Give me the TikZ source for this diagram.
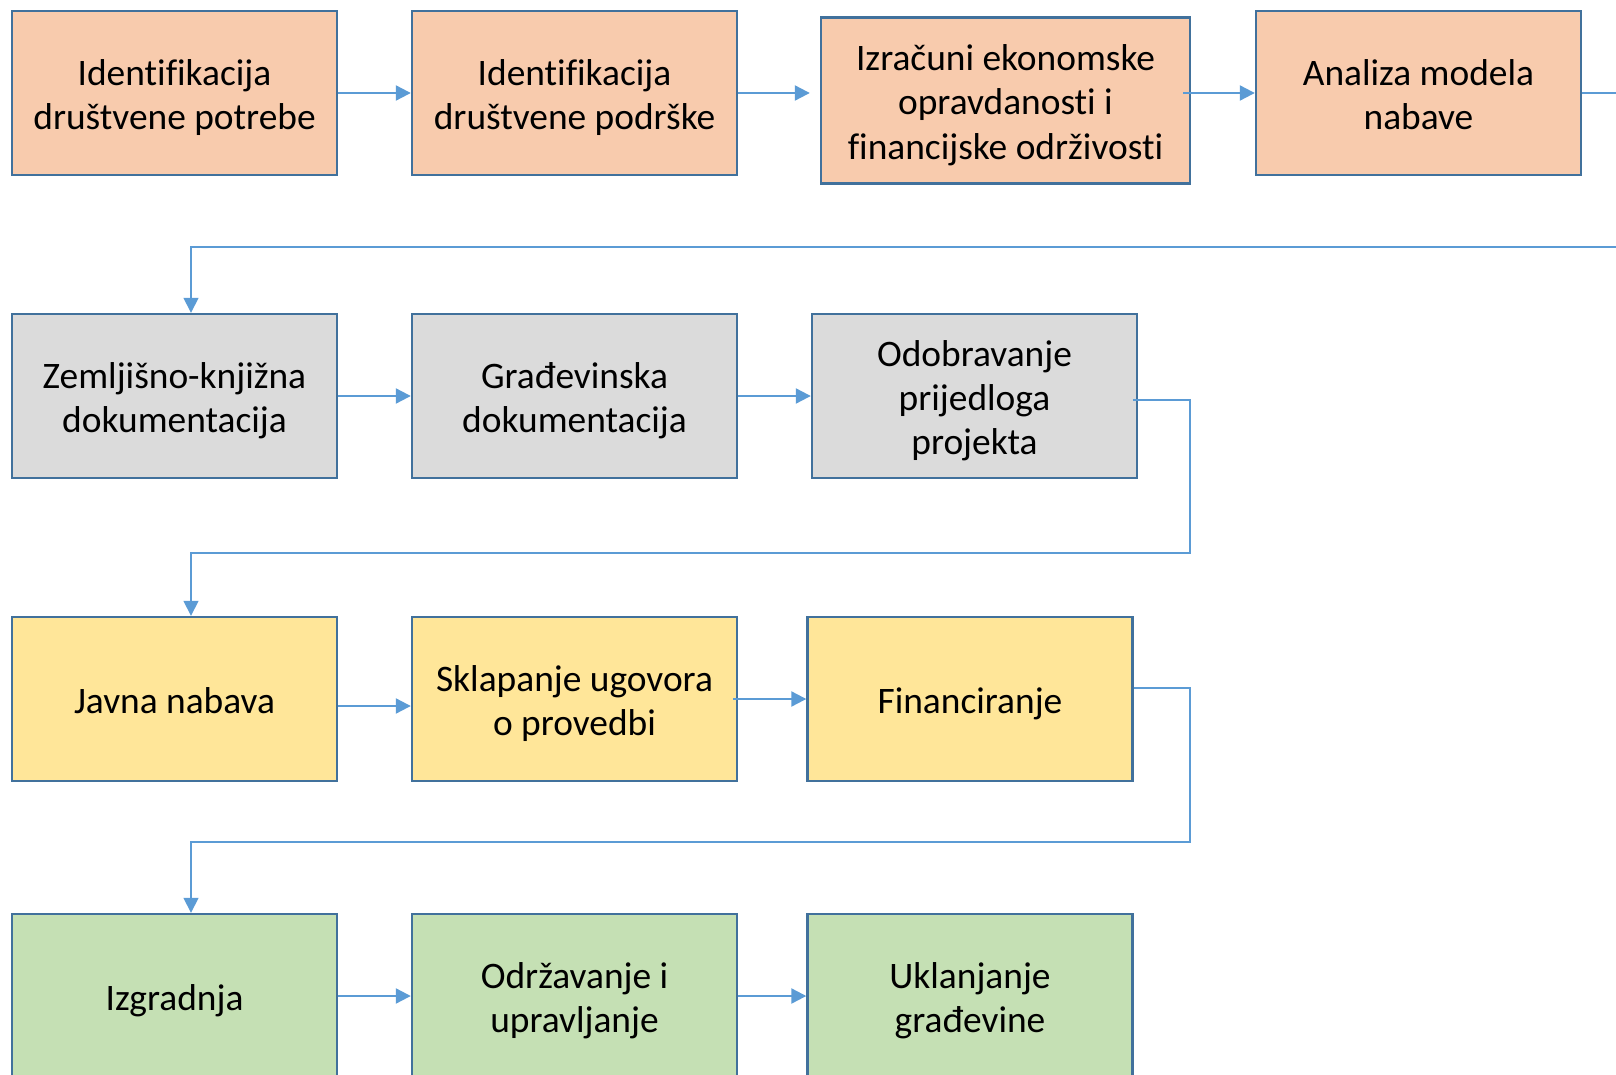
\documentclass[tikz,border=0pt]{standalone}
\usepackage{fontspec}
\setmainfont[Ligatures=NoCommon]{Carlito}
\usetikzlibrary{arrows.meta}

\definecolor{boxline}{HTML}{41719C}
\definecolor{linkblue}{HTML}{5B9BD5}
\definecolor{fillorange}{HTML}{F8CBAD}
\definecolor{fillgray}{HTML}{DBDBDB}
\definecolor{fillyellow}{HTML}{FFE699}
\definecolor{fillgreen}{HTML}{C5E0B4}

\newcommand{\topstrut}{\rule{0pt}{19.4pt}}
\newcommand{\bottomstrut}{\rule[-5pt]{0pt}{5pt}}

\begin{document}
\begin{tikzpicture}
        [
        stage/.style = {
            draw = boxline, line width = 1.2pt,
            rectangle, align = flush center,
            text width = 155pt,
            minimum width = 162.5pt,
            minimum height = 82pt,
            inner sep = 0pt,
            font = \fontsize{18.7pt}{22.2pt}\selectfont,
            execute at begin node = \topstrut,
            execute at end node = \bottomstrut,
        },
        arrow/.style = {-{Triangle[length=7.5pt,width=7.5pt]}, color = linkblue, line width = 1.1pt},
        link/.style = {-{Triangle[length=7.5pt,width=7.5pt]}, draw = linkblue, line width = 0.75pt},
        ]
        \useasboundingbox (0,0) rectangle (808pt,-537.5pt);

        % Priprema
        \node[stage, fill = fillorange] at (87.25pt,-46.5pt) (A1) {Identifikacija\\društvene potrebe};
        \node[stage, fill = fillorange, right of = A1, node distance = 200pt] (A2) {Identifikacija\\društvene podrške};
        \node[stage, fill = fillorange, text width = 175pt, minimum width = 184.5pt, minimum height = 83pt, right of = A2, node distance = 215.5pt, yshift = -3.75pt] (A3) {Izračuni ekonomske\\opravdanosti i\\financijske održivosti};
        \node[stage, fill = fillorange, right of = A2, node distance = 422pt] (A4) {Analiza modela\\nabave};

        % Dokumentacija
        \node[stage, fill = fillgray, below of = A1, node distance = 151.5pt] (B1) {Zemljišno-knjižna\\dokumentacija};
        \node[stage, fill = fillgray, right of = B1, node distance = 200pt] (B2) {Građevinska\\dokumentacija};
        \node[stage, fill = fillgray, right of = B2, node distance = 200pt] (B3) {Odobravanje\\prijedloga\\projekta};

        % Ugovaranje
        \node[stage, fill = fillyellow, below of = B1, node distance = 151.5pt] (C1) {Javna nabava};
        \node[stage, fill = fillyellow, right of = C1, node distance = 200pt] (C2) {Sklapanje ugovora\\o provedbi};
        \node[stage, fill = fillyellow, right of = C2, node distance = 197.75pt] (C3) {Financiranje};

        % Provedba
        \node[stage, fill = fillgreen, below of = C1, node distance = 148.5pt] (D1) {Izgradnja};
        \node[stage, fill = fillgreen, right of = D1, node distance = 200pt] (D2) {Održavanje i\\upravljanje};
        \node[stage, fill = fillgreen, right of = D2, node distance = 197.75pt] (D3) {Uklanjanje\\građevine};

        \coordinate (gap1) at (820pt,-123.5pt);
        \coordinate (gap2) at (595pt,-276.5pt);
        \coordinate (gap3) at (595pt,-421pt);

        % Prijelazi unutar redova
        \path[arrow]
            (A1) edge (A2)
            (A2.east) edge[shorten >= 5pt] (A2.east -| A3.west)
            ([xshift=-4pt]A3.east |- A4.west) edge (A4.west)
            (B1) edge (B2)
            (B2) edge (B3)
            ([yshift=-3.5pt]C1.east) edge ([yshift=-3.5pt]C2.west)
            ([xshift=-2.5pt]C2.east) edge (C3.west)
            (D1) edge (D2)
            (D2) edge (D3);

        % Prijelazi izmedu redova
        \draw[link] (A4.east) -| (gap1) -| ([xshift=8.25pt]B1.north);
        \draw[link] ([xshift=-2.5pt,yshift=-2pt]B3.east) -| (gap2) -| ([xshift=8.25pt]C1.north);
        \draw[link] ([yshift=5.5pt]C3.east) -| (gap3) -| ([xshift=8.25pt]D1.north);
\end{tikzpicture}
\end{document}
